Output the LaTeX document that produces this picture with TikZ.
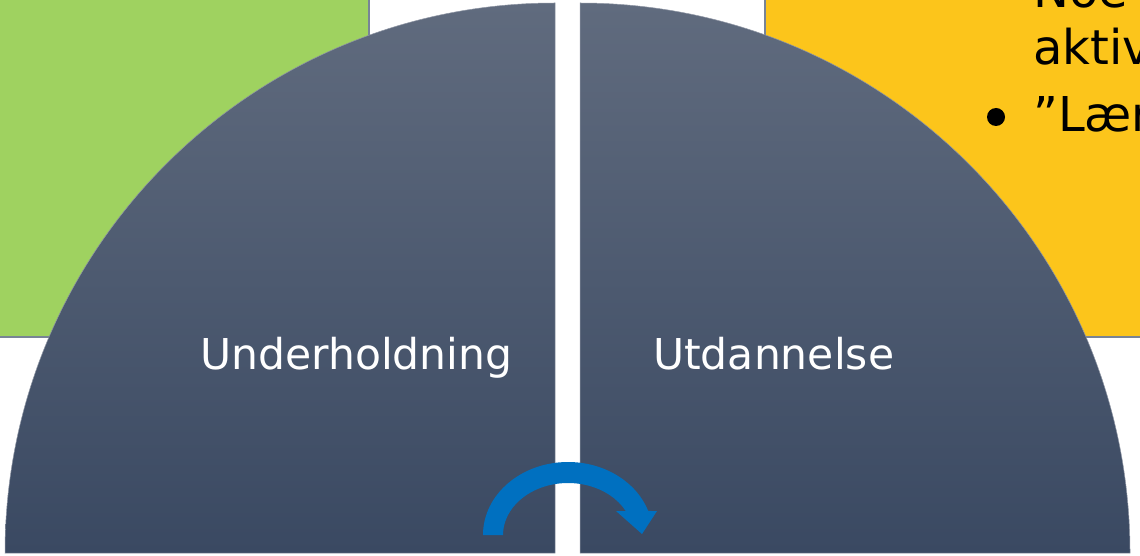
\documentclass[tikz,border=0pt]{standalone}
\usepackage{fontspec}
\setmainfont{DejaVu Sans}
\definecolor{leafgreen}{RGB}{159,210,96}
\definecolor{sunyellow}{RGB}{252,197,27}
\definecolor{framegray}{RGB}{120,132,150}
\definecolor{slatetop}{RGB}{96,107,126}
\definecolor{slatebottom}{RGB}{58,73,98}
\definecolor{arrowblue}{RGB}{0,112,192}
\tikzset{
  panel/.style={draw=framegray, line width=1.4pt},
  quarter/.style={top color=slatetop, bottom color=slatebottom, draw=slatetop!70!white, line width=0.5pt},
  sectorlabel/.style={anchor=base west, inner sep=0pt, text=white, font=\fontsize{42.5}{50}\selectfont},
  notetext/.style={anchor=base west, inner sep=0pt, text=black, font=\fontsize{48}{57}\selectfont},
  dot/.style={circle, fill=black, inner sep=0pt, minimum size=18pt},
}
\begin{document}
\begin{tikzpicture}[x=1pt, y=1pt]
  \useasboundingbox (0,0) rectangle (1140,555);
  \clip (0,0) rectangle (1140,555);
  \fill[white] (0,0) rectangle (1140,555);

  % background panels
  \draw[panel, fill=leafgreen] (-5,218) rectangle (369,560);
  \draw[panel, fill=sunyellow] (765,218) rectangle (1145,560);

  % panel text
  \node[notetext] (noe) at (1033,547) {Noe};
  \node[notetext] (aktiv) at (1033,490) {aktiv};
  \node[dot] (bullet) at (996,438) {};
  \node[notetext] (laer) at (1033,423) {”Lær};

  % two quarter discs
  \path[quarter] (555,2) -- (5,2) arc[start angle=180, end angle=90, radius=550pt] -- cycle;
  \path[quarter] (580,2) -- (580,552) arc[start angle=90, end angle=0, radius=550pt] -- cycle;

  \node[sectorlabel] (left) at (200,186) {Underholdning};
  \node[sectorlabel] (right) at (653,186) {Utdannelse};

  % curved turn arrow
  \fill[arrowblue] (483,20)
    arc[start angle=180, end angle=19.2, x radius=85pt, y radius=73pt]
    -- (657,44) -- (642,21) -- (616,44) -- (625.7,44)
    arc[start angle=27.5, end angle=180, x radius=65pt, y radius=52pt]
    -- cycle;
\end{tikzpicture}
\end{document}
